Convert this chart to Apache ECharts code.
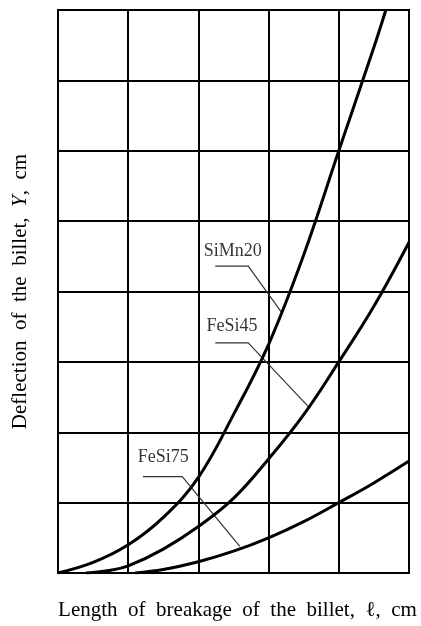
<!DOCTYPE html>
<html>
<head>
<meta charset="utf-8">
<script src="https://cdn.jsdelivr.net/npm/echarts@6/dist/echarts.min.js"></script>
<style>
  html, body { margin: 0; padding: 0; background: #fff; }
  #chart { width: 421px; height: 626px; }
</style>
</head>
<body>
<div id="chart"></div>
<script>
// ---- data (grid units: x 0..5, y 0..8) ----
const siMn20X = [0, 0.5, 1, 1.5, 2, 2.5, 3, 3.5, 4, 4.5, 4.67];
const siMn20Y = [0, 0.15, 0.40, 0.79, 1.36, 2.25, 3.25, 4.52, 6, 7.47, 8];

const feSi45X = [0.4, 0.75, 1, 1.5, 2, 2.5, 3, 3.5, 4, 4.5, 5];
const feSi45Y = [0, 0.04, 0.1, 0.34, 0.66, 1.06, 1.62, 2.25, 3.0, 3.79, 4.7];

const feSi75X = [1.1, 1.5, 2, 2.5, 3, 3.5, 4, 4.5, 5];
const feSi75Y = [0, 0.05, 0.16, 0.31, 0.50, 0.73, 1.0, 1.28, 1.59];

const curveNames = ['SiMn20', 'FeSi45', 'FeSi75'];
const labelAt = [[2.49, 4.575], [2.48, 3.51], [1.50, 1.64]];
const leaderPts = [
  [[2.24, 4.36], [2.71, 4.36], [3.18, 3.71]],
  [[2.24, 3.27], [2.71, 3.27], [3.59, 2.34]],
  [[1.21, 1.37], [1.77, 1.37], [2.59, 0.38]]
];

const xMin = 0, xMax = 5, yMin = 0, yMax = 8;
const xTitle = 'Length  of  breakage  of  the  billet,  ℓ,  cm';
const yTitle = 'Deflection  of  the  billet,  {i|Y},  cm';

// ---- build ----
const zip = (xs, ys) => xs.map((x, i) => [x, ys[i]]);
const curves = [zip(siMn20X, siMn20Y), zip(feSi45X, feSi45Y), zip(feSi75X, feSi75Y)];

const FONT = 'Liberation Serif';
const series = [];
curves.forEach((d, i) => {
  series.push({
    name: curveNames[i], type: 'line', data: d, smooth: 0.4,
    showSymbol: false, symbol: 'none', silent: true, z: 5,
    lineStyle: { color: '#000', width: 3 }
  });
});
leaderPts.forEach((d, i) => {
  series.push({
    type: 'line', data: d, showSymbol: false, symbol: 'none', silent: true, z: 4,
    lineStyle: { color: '#333', width: 1.2 }
  });
});
series.push({
  type: 'scatter', symbolSize: 0, silent: true, z: 6,
  data: labelAt.map((p, i) => ({ value: p, name: curveNames[i] })),
  label: {
    show: true, position: 'inside', formatter: p => p.name,
    color: '#000', fontFamily: FONT, fontSize: 18, textBorderWidth: 0,
    backgroundColor: '#fff', padding: [0, 1]
  }
});

const chart = echarts.init(document.getElementById('chart'), null, { renderer: 'canvas' });
chart.setOption({
  animation: false,
  backgroundColor: '#fff',
  grid: { left: 58, right: 12, top: 10, bottom: 51, show: true, borderColor: '#000', borderWidth: 2, backgroundColor: 'transparent' },
  xAxis: {
    type: 'value', min: xMin, max: xMax, interval: 1,
    axisLabel: { show: false }, axisTick: { show: false },
    axisLine: { show: true, lineStyle: { color: '#000', width: 2 } },
    splitLine: { show: true, lineStyle: { color: '#000', width: 2 } },
    name: xTitle, nameLocation: 'middle', nameGap: 27,
    nameTextStyle: { fontFamily: FONT, fontSize: 21, color: '#000', padding: [0, 0, 0, 8] }
  },
  yAxis: {
    type: 'value', min: yMin, max: yMax, interval: 1,
    axisLabel: { show: false }, axisTick: { show: false },
    axisLine: { show: true, lineStyle: { color: '#000', width: 2 } },
    splitLine: { show: true, lineStyle: { color: '#000', width: 2 } },
    name: yTitle, nameLocation: 'middle', nameGap: 27,
    nameTextStyle: {
      fontFamily: FONT, fontSize: 21, color: '#000',
      rich: { i: { fontFamily: FONT, fontSize: 21, fontStyle: 'italic', color: '#000' } }
    }
  },
  series: series
});
</script>
</body>
</html>
